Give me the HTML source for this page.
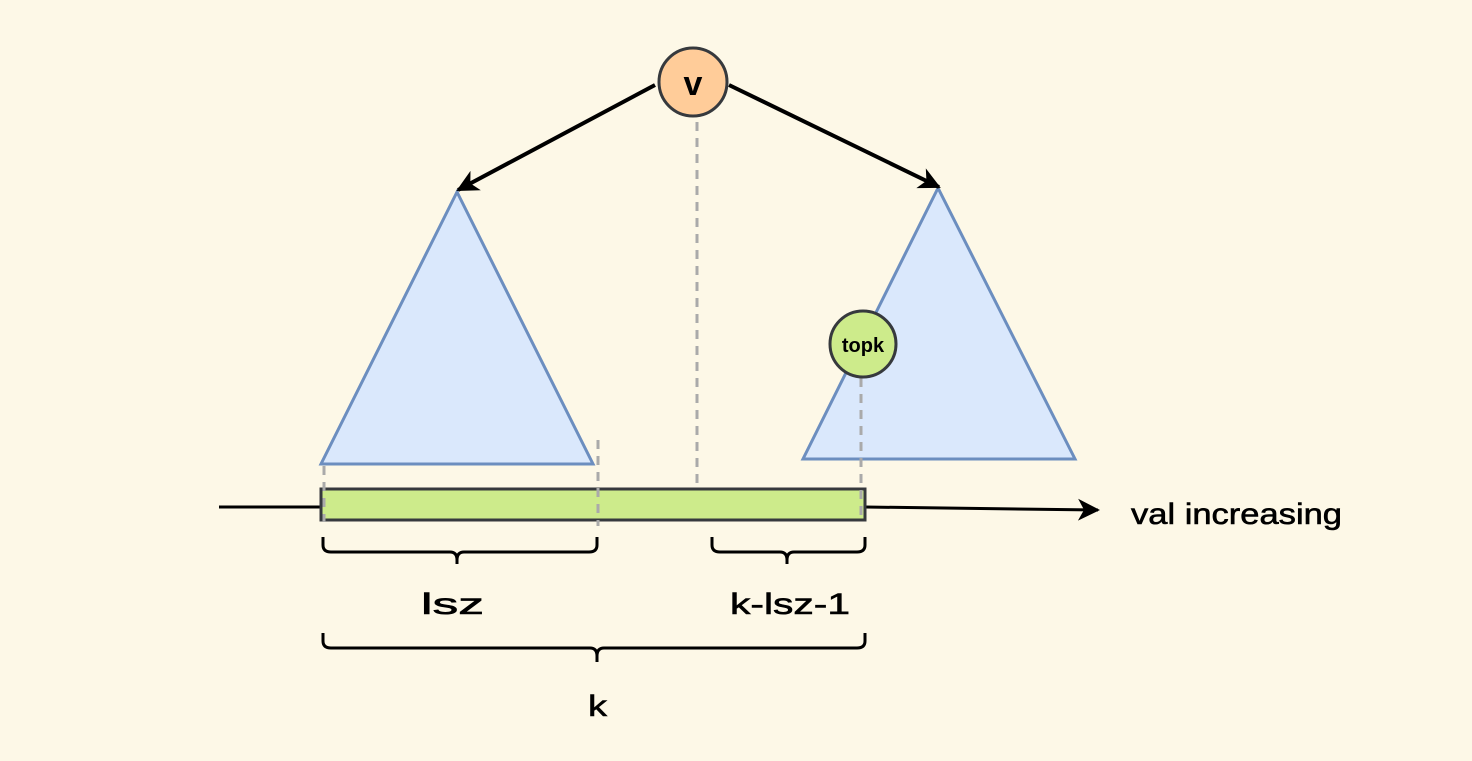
<!DOCTYPE html>
<html><head><style>html,body{margin:0;padding:0;background:#fdf8e7}</style></head>
<body>
<svg width="1472" height="756" viewBox="0 0 1472 756" xmlns="http://www.w3.org/2000/svg" font-family="'Liberation Sans', sans-serif">
<rect width="1472" height="756" fill="#fdf8e7"/>
<defs>
<marker id="b" markerWidth="22" markerHeight="22" refX="20" refY="11" orient="auto" markerUnits="userSpaceOnUse"><path d="M0,0 L22,11 L0,22 L6,11 z" fill="#000"/></marker></defs>
<polygon points="457,192 321,464 593,464" fill="#dae8fc" stroke="#6c8ebf" stroke-width="3"/>
<polygon points="938,188 803,459 1075,459" fill="#dae8fc" stroke="#6c8ebf" stroke-width="3"/>
<line x1="219" y1="507" x2="321" y2="507" stroke="#000" stroke-width="3"/>
<line x1="865" y1="507" x2="1098" y2="510" stroke="#000" stroke-width="3" marker-end="url(#b)"/>
<rect x="321" y="489" width="544" height="31" fill="#cdeb8b" stroke="#36393d" stroke-width="3"/>
<g stroke="#aaa" stroke-width="3" stroke-dasharray="9,7" fill="none">
<line x1="697" y1="122" x2="697" y2="489"/>
<line x1="324" y1="466" x2="324" y2="522"/>
<line x1="598" y1="440" x2="598" y2="526"/>
<line x1="861" y1="378" x2="861" y2="522"/>
</g>
<line x1="655" y1="85" x2="458" y2="190" stroke="#000" stroke-width="4" marker-end="url(#b)"/>
<line x1="729" y1="85" x2="939" y2="187" stroke="#000" stroke-width="4" marker-end="url(#b)"/>
<circle cx="693" cy="82" r="34" fill="#ffcc99" stroke="#36393d" stroke-width="3"/>
<text x="693" y="95" font-size="34" font-weight="bold" text-anchor="middle">v</text>
<circle cx="863" cy="344" r="33" fill="#cdeb8b" stroke="#36393d" stroke-width="3"/>
<text x="863" y="352" font-size="20" text-anchor="middle" font-weight="bold">topk</text>
<g stroke="#000" stroke-width="3" fill="none">
<path d="M323,537 v8 q0,7 8,7 H450 q7,0 7,8 v4 M457,560 q0,-8 7,-8 H589 q8,0 8,-7 v-8"/>
<path d="M712,537 v8 q0,7 8,7 H780 q7,0 7,8 v4 M787,560 q0,-8 7,-8 H857 q8,0 8,-7 v-8"/>
<path d="M323,633 v8 q0,7 8,7 H590 q7,0 7,8 v6 M597,656 q0,-8 7,-8 H857 q8,0 8,-7 v-8"/>
</g>
<g font-size="30" stroke="#000" stroke-width="0.6">
<text x="421" y="614" textLength="63" lengthAdjust="spacingAndGlyphs">lsz</text>
<text x="730" y="614" textLength="120" lengthAdjust="spacingAndGlyphs">k-lsz-1</text>
<text x="588" y="716" textLength="19" lengthAdjust="spacingAndGlyphs">k</text>
<text x="1131" y="524" textLength="211" lengthAdjust="spacingAndGlyphs">val increasing</text>
</g>
</svg>
</body></html>
